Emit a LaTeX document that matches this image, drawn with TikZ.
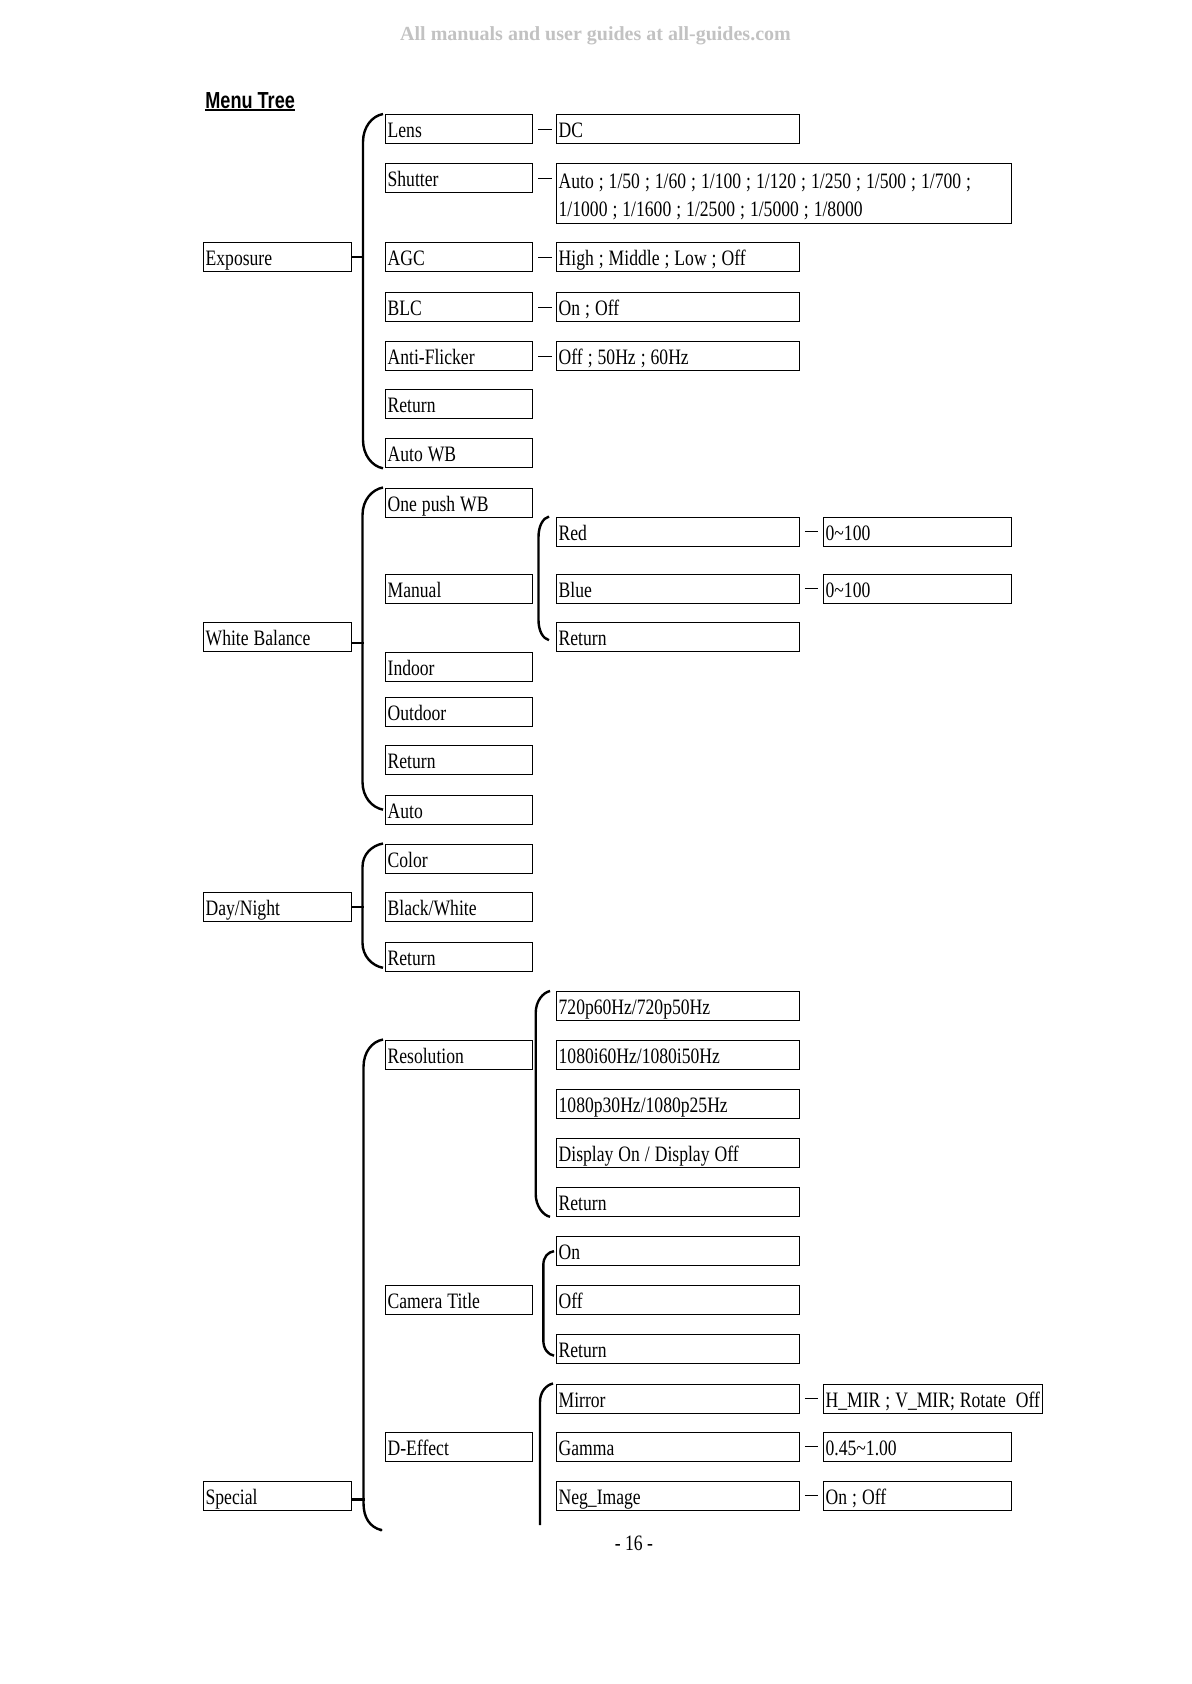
\documentclass[tikz,border=0pt]{standalone}
\usepackage{fontspec}
\setmainfont{Liberation Serif}
\newfontfamily\boxfont[FakeStretch=0.8]{Liberation Serif}
\newfontfamily\headfont[FakeStretch=0.78]{Liberation Sans}

\tikzset{
  menubox/.style={draw, line width=0.65pt, rectangle, anchor=north west,
    inner xsep=1pt, inner ysep=0pt, text height=11.6pt, text depth=2.9pt,
    font=\boxfont\fontsize{11}{13.7}\selectfont,
    execute at begin node={\spaceskip=2.5pt\xspaceskip=2.5pt\relax}},
  colA/.style={menubox, text width=71.75pt},
  colB/.style={menubox, text width=71.5pt},
  colC/.style={menubox, text width=119.25pt},
  colD/.style={menubox, text width=92pt},
  colDw/.style={menubox, text width=107.5pt},
  brace/.style={line width=1.2pt},
  link/.style={line width=0.6pt},
}

\begin{document}
\begin{tikzpicture}[x=0.5pt,y=-0.5pt]
\useasboundingbox (0,0) rectangle (1191,1684);

% page head
\node[font=\bfseries\fontsize{10}{12}\selectfont, text=black!24, anchor=base, inner sep=0pt] (watermark) at (595.5,41) {All manuals and user guides at all-guides.com};
\node[font=\headfont\bfseries\fontsize{11.6}{14}\selectfont, anchor=base west, inner sep=0pt] (menutree) at (205,108.3) {Menu Tree};
\draw[line width=1pt] ([yshift=-1pt]menutree.base west) -- ([yshift=-1pt]menutree.base east);

% Exposure
\node[colA] (exposure) at (203,242) {Exposure};
\node[colB] (lens) at (385,114) {Lens};
\node[colB] (shutter) at (385,163) {Shutter};
\node[colB] (agc) at (385,242) {AGC};
\node[colB] (blc) at (385,292) {BLC};
\node[colB] (flicker) at (385,341) {Anti-Flicker};
\node[colB] (expreturn) at (385,389) {Return};
\node[colB] (autowb) at (385,438) {Auto WB};
\node[colC] (lensval) at (556,114) {DC};
\node[menubox, text width=225.5pt, text height=12.65pt, text depth=17.35pt] (shutterval) at (556,163) {Auto ; 1/50 ; 1/60 ; 1/100 ; 1/120 ; 1/250 ; 1/500 ; 1/700 ;\\1/1000 ; 1/1600 ; 1/2500 ; 1/5000 ; 1/8000};
\node[colC] (agcval) at (556,242) {High ; Middle ; Low ; Off};
\node[colC] (blcval) at (556,292) {On ; Off};
\node[colC] (flickerval) at (556,341) {Off ; 50Hz ; 60Hz};

\draw[brace] ([xshift=-1pt]lens.north west) .. controls +(-11,2) and +(0,-15) .. (363,142) -- (363,440) .. controls +(0,15) and +(-11,-2) .. ([xshift=-1pt]autowb.south west);
\draw[brace] (exposure.east) -- ++(12.5,0);
\foreach \a/\b in {lens/lensval, shutter/shutterval, agc/agcval, blc/blcval, flicker/flickerval}
  \draw[link] ([xshift=2.5pt]\a.east) -- ([xshift=-2pt]\a.east -| \b.west);

% White Balance
\node[colA] (wb) at (203,622) {White Balance};
\node[colB] (onepush) at (385,487.5) {One push WB};
\node[colB] (manual) at (385,573.5) {Manual};
\node[colB] (indoor) at (385,652) {Indoor};
\node[colB] (outdoor) at (385,696.5) {Outdoor};
\node[colB] (wbreturn) at (385,745) {Return};
\node[colB] (auto) at (385,794.5) {Auto};
\node[colC] (red) at (556,516.5) {Red};
\node[colC] (blue) at (556,573.5) {Blue};
\node[colC] (manreturn) at (556,622) {Return};
\node[colD] (redval) at (823,516.5) {0\textasciitilde100};
\node[colD] (blueval) at (823,573.5) {0\textasciitilde100};

\draw[brace] ([xshift=-1pt]onepush.north west) .. controls +(-11,2) and +(0,-15) .. (362.5,515) -- (362.5,782) .. controls +(0,15) and +(-11,-2) .. ([xshift=-1pt]auto.west);
\draw[brace] ([yshift=-3pt]wb.east) -- ++(12,0);
\draw[brace] ([xshift=-3.5pt]red.north west) .. controls +(-6,1.5) and +(0,-11) .. (538.5,537) -- (538.5,620) .. controls +(0,11) and +(-6,-1.5) .. ([xshift=-3.5pt,yshift=-1.5pt]manreturn.west);

% Day/Night
\node[colA] (daynight) at (203,892) {Day/Night};
\node[colB] (color) at (385,843.5) {Color};
\node[colB] (bw) at (385,892) {Black/White};
\node[colB] (dnreturn) at (385,941.5) {Return};

\draw[brace] ([xshift=-1pt]color.north west) .. controls +(-11,2) and +(0,-13) .. (362.5,867) -- (362.5,943) .. controls +(0,13) and +(-11,-2) .. ([xshift=-1pt,yshift=2pt]dnreturn.south west);
\draw[brace] (daynight.east) -- ++(12,0);

% Special
\node[colA] (special) at (203,1480.5) {Special};
\node[colB] (resolution) at (385,1039.5) {Resolution};
\node[colB] (camtitle) at (385,1285) {Camera Title};
\node[colB] (deffect) at (385,1431.5) {D-Effect};
\node[colC] (res720) at (556,991) {720p60Hz/720p50Hz};
\node[colC] (res1080i) at (556,1039.5) {1080i60Hz/1080i50Hz};
\node[colC] (res1080p) at (556,1088.5) {1080p30Hz/1080p25Hz};
\node[colC] (display) at (556,1137.5) {Display On / Display Off};
\node[colC] (resreturn) at (556,1186.5) {Return};
\node[colC] (titleon) at (556,1236) {On};
\node[colC] (titleoff) at (556,1285) {Off};
\node[colC] (titlereturn) at (556,1333.5) {Return};
\node[colC] (mirror) at (556,1383.5) {Mirror};
\node[colC] (gamma) at (556,1431.5) {Gamma};
\node[colC] (negimage) at (556,1480.5) {Neg\_Image};
\node[colDw] (mirrorval) at (823,1383.5) {\mbox{H\_MIR ; V\_MIR; Rotate~~Off}};
\node[colD] (gammaval) at (823,1431.5) {0.45\textasciitilde1.00};
\node[colD] (negval) at (823,1480.5) {On ; Off};

\coordinate (specialend) at (381,1530);
\draw[brace] ([xshift=-1pt]resolution.north west) .. controls +(-11,2) and +(0,-15) .. (363.5,1067) -- (363.5,1503) .. controls +(0,15) and +(-11,-3) .. (specialend);
\fill (specialend) circle (0.8pt);
\draw[brace] ([yshift=-2pt]special.east) -- ++(13,0);
\draw[brace] ([xshift=-3pt]res720.north west) .. controls +(-7,1.5) and +(0,-12) .. (535.7,1013) -- (535.7,1194) .. controls +(0,12) and +(-7,-1.5) .. ([xshift=-3pt]resreturn.south west);
\draw[brace] ([xshift=-1pt]titleon.west) .. controls +(-6,1) and +(0,-9) .. (543.3,1265.5) -- (543.3,1340) .. controls +(0,9) and +(-6,-1) .. ([xshift=-1pt,yshift=-3.5pt]titlereturn.west);
\draw[brace] ([xshift=-1.5pt]mirror.north west) .. controls +(-7,1.5) and +(0,-10) .. (540,1402) -- (540,1525);

\foreach \a/\b in {red/redval, blue/blueval, mirror/mirrorval, gamma/gammaval, negimage/negval}
  \draw[link] ([xshift=2.5pt]\a.east) -- ([xshift=-2.5pt]\b.west);

\node[font=\boxfont\fontsize{11}{13}\selectfont] (pagenum) at (634,1543) {- 16 -};
\end{tikzpicture}
\end{document}
